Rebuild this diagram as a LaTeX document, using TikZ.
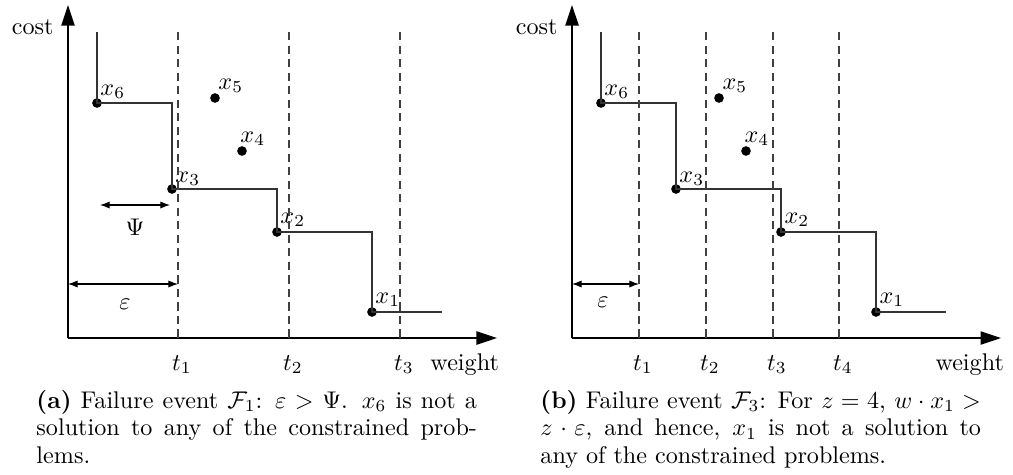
\documentclass[tikz,border=0pt]{standalone}
\usepackage{amsmath,amssymb}
\usetikzlibrary{arrows.meta,calc}
\tikzset{
 axis/.style={line width=0.6pt,-{Triangle[length=8.5pt,width=5.5pt]}},
 stair/.style={line width=0.45pt,black!80},
 dline/.style={line width=0.45pt,black!75,dash pattern=on 3.4pt off 2.2pt},
 dot/.style={circle,fill,inner sep=0pt,minimum size=4pt},
 lab/.style={anchor=base west,inner sep=0pt},
 tlab/.style={anchor=base,inner sep=0pt},
 txt/.style={inner sep=0pt},
 dimarrow/.style={line width=0.45pt,{Latex[length=4pt,width=3pt]}-{Latex[length=4pt,width=3pt]}},
 capline/.style={anchor=base west,inner sep=0pt},
}
\newcommand{\commonplot}{%
  \coordinate (o) at (68,338);
  \coordinate (ytip) at (68,5);
  \coordinate (xtip) at (497,338);
  \draw[axis] (o) -- (ytip);
  \draw[axis] (o) -- (xtip);
  \node[txt,anchor=base east] (cost) at (54,34) {cost};
  \node[dot] (x6) at (97,103) {};
  \node[dot] (x3) at (172,189) {};
  \node[dot] (x2) at (277,232) {};
  \node[dot] (x1) at (372,312) {};
  \node[dot] (x5) at (215,98) {};
  \node[dot] (x4) at (242,151) {};
  \coordinate (stop) at (97,32);
  \coordinate (send) at (442,312);
  \draw[stair] (stop) -- (x6.center) -| (x3.center) -| (x2.center) -| (x1.center) -- (send);
  \node[lab] (l6) at ($(x6)+(3,-8)$) {$x_6$};
  \node[lab] (l3) at ($(x3)+(3,-7)$) {$x_3$};
  \node[lab] (l2) at ($(x2)+(3,-9)$) {$x_2$};
  \node[lab] (l1) at ($(x1)+(3,-9)$) {$x_1$};
  \node[lab] (l5) at ($(x5)+(3,-9)$) {$x_5$};
  \node[lab] (l4) at ($(x4)+(-2,-9)$) {$x_4$};
}
\begin{document}
\begin{tikzpicture}[x=0.4143pt,y=-0.4143pt]
\useasboundingbox (0,0) rectangle (1013,474);
% ---------- (a) ----------
\begin{scope}[name prefix=a-]
  \commonplot
  \foreach \n/\xx in {1/178,2/289,3/400}{
    \coordinate (t\n top) at (\xx,32);
    \coordinate (t\n bot) at (\xx,338);
    \draw[dline] (t\n top) -- (t\n bot);
    \node[tlab] (t\n) at (\xx+4,370) {$t_{\n}$};
  }
  \node[txt,anchor=base west] (weight) at (430,370) {weight};
  \coordinate (psiL) at (100,205);
  \coordinate (psiR) at (170,205);
  \draw[dimarrow] (psiL) -- (psiR);
  \node[txt] (psi) at (135,227) {$\Psi$};
  \coordinate (epsL) at (68,284);
  \coordinate (epsR) at (178,284);
  \draw[dimarrow] (epsL) -- (epsR);
  \node[txt] (eps) at (125,304) {$\varepsilon$};
\end{scope}
% ---------- (b) ----------
\begin{scope}[shift={(504,0)},name prefix=b-]
  \commonplot
  \foreach \n/\xx in {1/135,2/202,3/269,4/335}{
    \coordinate (t\n top) at (\xx,32);
    \coordinate (t\n bot) at (\xx,338);
    \draw[dline] (t\n top) -- (t\n bot);
    \node[tlab] (t\n) at (\xx+4,370) {$t_{\n}$};
  }
  \node[txt,anchor=base west] (weight) at (431,370) {weight};
  \coordinate (epsL) at (68,284);
  \coordinate (epsR) at (135,284);
  \draw[dimarrow] (epsL) -- (epsR);
  \node[txt] (eps) at (99,302) {$\varepsilon$};
\end{scope}
% ---------- captions ----------
\node[capline] (ca1) at (36,408) {\makebox[182.5pt][s]{\textbf{(a)} Failure event $\mathcal{F}_1$: $\varepsilon>\Psi$. $x_6$ is not a}};
\node[capline] (ca2) at (36,435.5) {\makebox[182.5pt][s]{solution to any of the constrained prob-}};
\node[capline] (ca3) at (36,463) {lems.};
\node[capline] (cb1) at (540,408) {\makebox[182.5pt][s]{\textbf{(b)} Failure event $\mathcal{F}_3$: For $z=4$, $w\cdot x_1>$}};
\node[capline] (cb2) at (540,435.5) {\makebox[182.5pt][s]{$z\cdot\varepsilon$, and hence, $x_1$ is not a solution to}};
\node[capline] (cb3) at (540,463) {any of the constrained problems.};
\end{tikzpicture}
\end{document}
